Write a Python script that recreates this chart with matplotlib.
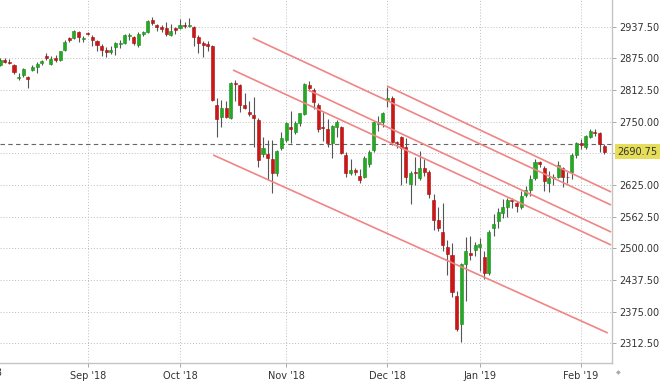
import matplotlib
matplotlib.use("Agg")
import matplotlib.pyplot as plt
import matplotlib.transforms as mtransforms

# trading sessions shown (futures feed, holiday sessions included)
month_days = [
    ("2018-08", [7, 8, 9, 10, 13, 14, 15, 16, 17, 20, 21, 22, 23, 24, 27, 28, 29, 30, 31]),
    ("2018-09", [3, 4, 5, 6, 7, 10, 11, 12, 13, 14, 17, 18, 19, 20, 21, 24, 25, 26, 27, 28]),
    ("2018-10", [1, 2, 3, 4, 5, 8, 9, 10, 11, 12, 15, 16, 17, 18, 19, 22, 23, 24, 25, 26, 29, 30, 31]),
    ("2018-11", [1, 2, 5, 6, 7, 8, 9, 12, 13, 14, 15, 16, 19, 20, 21, 22, 23, 26, 27, 28, 29, 30]),
    ("2018-12", [3, 4, 5, 6, 7, 10, 11, 12, 13, 14, 17, 18, 19, 20, 21, 24, 26, 27, 28, 31]),
    ("2019-01", [2, 3, 4, 7, 8, 9, 10, 11, 14, 15, 16, 17, 18, 21, 22, 23, 24, 25, 28, 29, 30, 31]),
    ("2019-02", [1, 4, 5, 6, 7, 8]),
]
dates = ["%s-%02d" % (m, d) for m, days in month_days for d in days]

opens = [2861, 2871, 2868, 2862, 2837, 2842, 2839, 2853, 2858, 2865, 2879, 2863, 2876, 2871, 2891, 2915, 2916, 2927, 2914,
         2926, 2918, 2909, 2899, 2891, 2887, 2897, 2904, 2905, 2920, 2917, 2901, 2924, 2927, 2951, 2941, 2937, 2935, 2921, 2934,
         2935, 2941, 2939, 2936, 2917, 2905, 2903, 2899, 2783, 2759, 2777, 2757, 2827, 2822, 2783, 2769, 2763, 2753, 2686, 2686, 2676, 2648, 2698,
         2714, 2739, 2730, 2747, 2765, 2822, 2812, 2783, 2740, 2735, 2707, 2739, 2739, 2684, 2648, 2654, 2642, 2640, 2666, 2694, 2746, 2749,
         2793, 2797, 2710, 2720, 2700, 2628, 2650, 2638, 2658, 2651, 2595, 2557, 2532, 2502, 2486, 2407, 2350, 2470, 2491, 2497,
         2503, 2483, 2451, 2540, 2555, 2569, 2581, 2595, 2590, 2581, 2606, 2615, 2638, 2670, 2658, 2630, 2638, 2641, 2658, 2641, 2650, 2684,
         2708, 2700, 2720, 2729, 2727, 2702]
highs = [2876, 2875, 2873, 2864, 2846, 2856, 2841, 2862, 2868, 2872, 2886, 2879, 2881, 2890, 2911, 2918, 2931, 2930, 2920,
         2928, 2921, 2912, 2903, 2897, 2899, 2907, 2911, 2923, 2925, 2920, 2927, 2930, 2951, 2957, 2943, 2940, 2947, 2943, 2937,
         2953, 2946, 2955, 2938, 2921, 2910, 2910, 2901, 2797, 2793, 2790, 2828, 2833, 2825, 2807, 2791, 2799, 2758, 2720, 2714, 2714, 2694, 2730,
         2749, 2772, 2752, 2768, 2826, 2831, 2816, 2787, 2770, 2755, 2744, 2754, 2742, 2690, 2676, 2658, 2656, 2682, 2694, 2752, 2762, 2769,
         2819, 2800, 2712, 2722, 2718, 2652, 2680, 2692, 2676, 2655, 2608, 2582, 2590, 2516, 2510, 2415, 2472, 2522, 2525, 2512,
         2520, 2495, 2537, 2568, 2580, 2597, 2599, 2600, 2593, 2613, 2624, 2644, 2677, 2673, 2662, 2652, 2647, 2672, 2660, 2651, 2688, 2710,
         2716, 2724, 2736, 2736, 2729, 2706]
lows = [2859, 2866, 2864, 2844, 2832, 2839, 2816, 2850, 2846, 2862, 2872, 2861, 2867, 2869, 2889, 2907, 2913, 2908, 2908,
        2921, 2900, 2890, 2880, 2877, 2884, 2881, 2895, 2903, 2911, 2901, 2898, 2920, 2925, 2941, 2930, 2928, 2919, 2919, 2924,
        2933, 2934, 2936, 2899, 2885, 2877, 2889, 2790, 2720, 2739, 2757, 2755, 2790, 2770, 2775, 2761, 2700, 2660, 2680, 2635, 2609, 2643, 2694,
        2710, 2708, 2725, 2742, 2763, 2810, 2775, 2730, 2712, 2700, 2678, 2720, 2686, 2640, 2645, 2645, 2630, 2638, 2660, 2690, 2731, 2740,
        2780, 2705, 2698, 2625, 2630, 2587, 2625, 2635, 2643, 2600, 2537, 2535, 2495, 2448, 2405, 2336, 2316, 2397, 2478, 2484,
        2455, 2440, 2448, 2524, 2540, 2560, 2562, 2579, 2571, 2578, 2602, 2604, 2635, 2660, 2614, 2612, 2626, 2638, 2622, 2630, 2636, 2678,
        2697, 2696, 2717, 2722, 2690, 2686]
closes = [2871, 2868, 2866, 2848, 2839, 2854, 2835, 2857, 2863, 2869, 2876, 2874, 2872, 2889, 2908, 2912, 2929, 2917, 2916,
          2924, 2911, 2901, 2891, 2887, 2891, 2905, 2906, 2921, 2921, 2905, 2923, 2927, 2949, 2945, 2937, 2933, 2923, 2929, 2931,
          2941, 2938, 2941, 2917, 2905, 2901, 2899, 2793, 2755, 2777, 2760, 2826, 2824, 2783, 2777, 2765, 2757, 2674, 2698, 2678, 2648, 2692, 2718,
          2747, 2736, 2747, 2767, 2824, 2816, 2789, 2735, 2737, 2707, 2741, 2749, 2688, 2648, 2654, 2650, 2634, 2678, 2690, 2749, 2750, 2767,
          2796, 2710, 2707, 2698, 2641, 2648, 2648, 2658, 2651, 2607, 2557, 2540, 2506, 2488, 2413, 2340, 2470, 2494, 2487, 2506,
          2508, 2451, 2532, 2549, 2571, 2581, 2595, 2593, 2583, 2604, 2615, 2636, 2670, 2666, 2633, 2638, 2640, 2664, 2641, 2640, 2684, 2707,
          2705, 2721, 2731, 2727, 2706, 2690.75]

last_price = 2690.75
prev_close = 2706

month_labels = ["Sep '18", "Oct '18", "Nov '18", "Dec '18", "Jan '19", "Feb '19"]
y_ticks = [2312.5, 2375.0, 2437.5, 2500.0, 2562.5, 2625.0, 2687.5, 2750.0, 2812.5, 2875.0, 2937.5]

# drawn channel lines: (start index, start price, end index, end price)
channels = [
    (54.8, 2915.2, 132.5, 2585.6),
    (50.5, 2852.0, 132.5, 2506.7),
    (83.9, 2820.5, 132.5, 2611.3),
    (66.8, 2812.6, 132.5, 2532.3),
    (46.2, 2684.3, 131.8, 2333.0),
]

GREEN = "#22aa22"
GREEN_EDGE = "#1b8a1b"
RED = "#cf1515"
RED_EDGE = "#a51010"

fig = plt.figure(figsize=(6.6, 3.83), dpi=100)
ax = fig.add_axes([0, 20 / 383, 612 / 660, 363 / 383])

xs = list(range(len(dates)))
for i in xs:
    o, h, l, c = opens[i], highs[i], lows[i], closes[i]
    up = c >= o
    ax.vlines(i, l, h, color="#555555", lw=0.8, zorder=2)
    ax.bar(i, max(abs(c - o), 1.2), bottom=min(o, c), width=0.66,
           color=GREEN if up else RED, edgecolor=GREEN_EDGE if up else RED_EDGE,
           lw=0.4, zorder=3)

for x0, y0, x1, y1 in channels:
    ax.plot([x0, x1], [y0, y1], color="#ef8585", lw=1.2, zorder=4, solid_capstyle="butt")

ax.axhline(prev_close, color="#666666", lw=0.8, dashes=(4, 3), zorder=1)

# month ticks at first session of each month
month_idx = []
for m in ["2018-09", "2018-10", "2018-11", "2018-12", "2019-01", "2019-02"]:
    month_idx.append(next(k for k, d in enumerate(dates) if d.startswith(m)))

ax.set_xlim(-0.04, 132.7)
ax.set_ylim(2273.8, 2990.2)
ax.set_xticks(month_idx)
ax.set_xticklabels(month_labels)
ax.set_yticks(y_ticks)
ax.set_yticklabels(["" if t == 2687.5 else "%.2f" % t for t in y_ticks])
ax.yaxis.tick_right()
ax.tick_params(axis="both", labelsize=7, colors="#999999", labelcolor="#333333", length=3, width=0.6)
ax.tick_params(axis="y", pad=2)
ax.tick_params(axis="x", pad=3)
ax.grid(True, linestyle=(0, (1, 2)), color="#bdbdbd", lw=0.7, zorder=0)
ax.set_axisbelow(True)
for s in ["top", "left"]:
    ax.spines[s].set_visible(False)
for s in ["right", "bottom"]:
    ax.spines[s].set_color("#c4c4c4")
    ax.spines[s].set_linewidth(1.0)

# August label, mostly cut off at left edge (as in the source)
trans = mtransforms.blended_transform_factory(ax.transData, ax.transAxes)
ax.text(-3.6, -0.0285, "Aug '18", transform=trans, ha="center", va="center",
        fontsize=7, color="#333333", clip_on=False)

# last price tag
trans_y = mtransforms.blended_transform_factory(ax.transAxes, ax.transData)
ax.text(1.009, last_price, "%.2f" % last_price, transform=trans_y, ha="left", va="center",
        fontsize=7, color="#333333", clip_on=False,
        bbox=dict(boxstyle="square,pad=0.25", fc="#e6de58", ec="none"))

fig.text(616 / 660, 1 - 373 / 383, "\u25c6", fontsize=4.5, color="#aaaaaa", ha="left", va="center")

fig.savefig("out.png", dpi=100)
